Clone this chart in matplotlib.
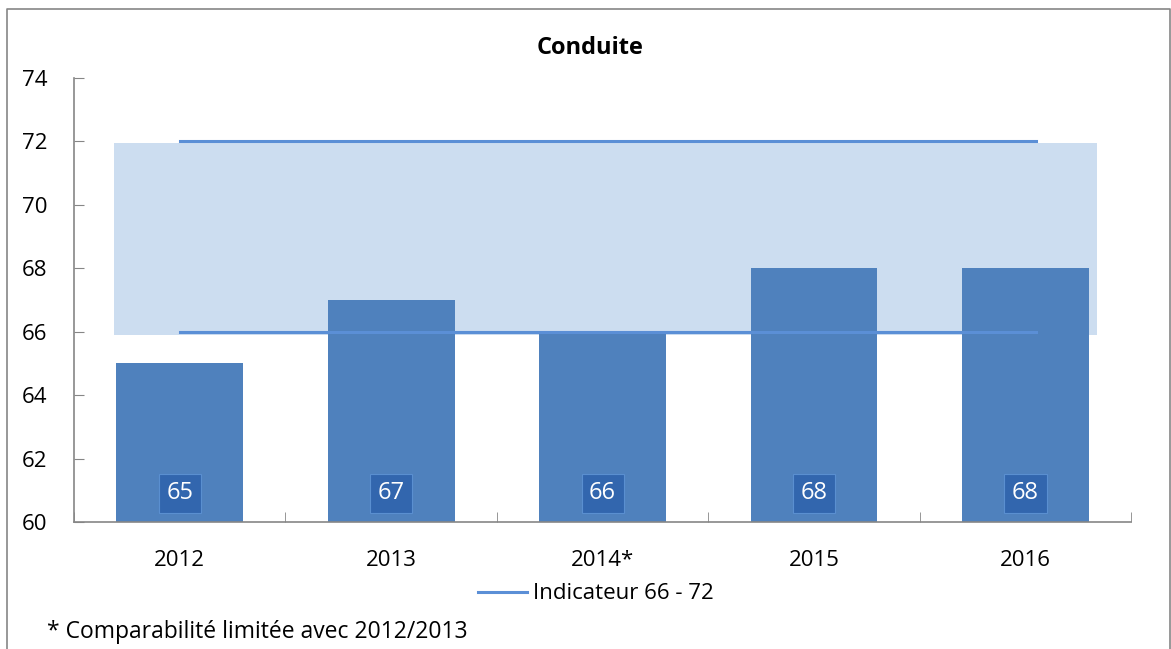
import matplotlib

matplotlib.use("Agg")
import matplotlib.pyplot as plt
from matplotlib.lines import Line2D

plt.rcParams["font.family"] = ["Open Sans", "DejaVu Sans"]

years = ["2012", "2013", "2014*", "2015", "2016"]
scores = [65, 67, 66, 68, 68]
ind_low = [66, 66, 66, 66, 66]
ind_high = [72, 72, 72, 72, 72]

BAR = "#4F81BD"
BAND = "#CCDDF0"
LINE = "#5B8FD6"
AXIS = "#868686"

fig = plt.figure(figsize=(11.71, 6.49), dpi=100)
ax = fig.add_axes([0.0632, 0.1957, 0.9028, 0.6841])

x = list(range(len(years)))

# target band behind the bars
ax.fill_between([-0.31, 4.34], ind_low[0] - 0.1, ind_high[0] - 0.05, color=BAND, lw=0, zorder=1)
ax.bar(x, scores, width=0.6, color=BAR, zorder=2)
ax.plot([0, 4.05], [ind_high[0], ind_high[-1]], color=LINE, lw=2.2, zorder=3)
ax.plot([0, 4.05], [ind_low[0], ind_low[-1]], color=LINE, lw=2.2, zorder=3)

for xi, v in zip(x, scores):
    ax.text(
        xi, 60.9, f"{v}", ha="center", va="center", fontsize=17, color="white", zorder=5,
        bbox=dict(boxstyle="square,pad=0.32", facecolor="#3266AE", edgecolor="#5A8FD0", lw=0.8),
    )

ax.set_xlim(-0.5, 4.5)
ax.set_ylim(60, 74)
ax.set_yticks(range(60, 75, 2))
ax.set_xticks(x)
ax.set_xticklabels(years)
ax.set_xticks([i + 0.5 for i in range(-1, 5)], minor=True)
ax.tick_params(axis="y", direction="in", length=7, color=AXIS, labelsize=16, pad=19)
ax.tick_params(axis="x", which="major", length=0, labelsize=16, pad=20)
ax.tick_params(axis="x", which="minor", direction="in", length=7, color=AXIS)
for s in ("top", "right"):
    ax.spines[s].set_visible(False)
for s in ("left", "bottom"):
    ax.spines[s].set_color(AXIS)
    ax.spines[s].set_linewidth(1.2)

fig.text(0.504, 0.926, "Conduite", ha="center", va="center", fontsize=17, fontweight="bold")

fig.legend(
    handles=[Line2D([0], [0], color=LINE, lw=2.2, label="Indicateur 66 - 72")],
    loc="center", bbox_to_anchor=(0.509, 0.085), frameon=False, fontsize=16,
    handlelength=2.2, handletextpad=0.3,
)

fig.text(0.04, 0.026, "* Comparabilité limitée avec 2012/2013", ha="left", va="center", fontsize=16.5)

# outer chart frame
fig.add_artist(Line2D([0.006, 0.006, 0.9995, 0.9995], [0, 0.986, 0.986, 0],
                      color=AXIS, lw=1.2, transform=fig.transFigure))

fig.savefig("out.png", dpi=100, facecolor="white")
